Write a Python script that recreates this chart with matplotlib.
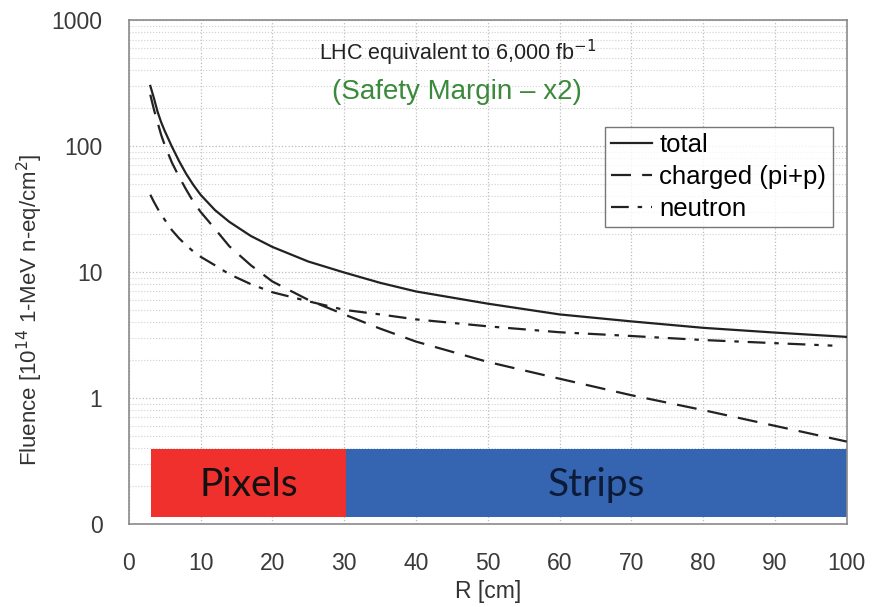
import matplotlib.pyplot as plt
import numpy as np
from matplotlib.ticker import FixedLocator, LogLocator, NullFormatter

# fluence vs radius
r_tot = [3, 3.5, 4, 4.5, 5, 6, 7, 8, 9, 10, 12, 14, 17, 20, 25, 30, 35, 40, 50, 60, 70, 80, 90, 100]
total = [300, 240, 188, 155, 132, 99, 76, 60, 49, 41, 31, 25, 19.3, 15.8, 12.1, 9.9, 8.2, 7.0,
         5.6, 4.6, 4.05, 3.6, 3.3, 3.05]

r_chg = [3, 3.5, 4, 4.5, 5, 6, 7, 8, 9, 10, 12, 14, 17, 20, 25, 30, 35, 40, 50, 60, 70, 80, 90, 100]
charged = [255, 195, 155, 123, 102, 74, 57, 45, 36, 30, 22, 16, 11.3, 8.4, 6.0, 4.6, 3.55, 2.8,
           1.93, 1.42, 1.05, 0.8, 0.6, 0.45]

r_neu = [3, 3.5, 4, 4.5, 5, 6, 7, 8, 9, 10, 12, 14, 17, 20, 25, 30, 35, 40, 50, 60, 70, 80, 90, 98]
neutron = [41, 36, 32, 28.5, 26, 21.5, 18.5, 16.3, 14.5, 13.2, 11.3, 9.6, 8.0, 6.9, 5.85, 5.0,
           4.6, 4.2, 3.7, 3.32, 3.1, 2.88, 2.72, 2.6]

# detector regions (R start, R end)
regions = ["Pixels", "Strips"]
region_span = [(3.05, 30.3), (30.3, 100)]
region_colors = ["#f0302c", "#3565b0"]
region_text = ["#111111", "#0d1b3a"]

y_ticks = [0.1, 1, 10, 100, 1000]
y_labels = ["0", "1", "10", "100", "1000"]
x_ticks = list(range(0, 101, 10))

plt.rcParams['font.family'] = ['Liberation Sans', 'DejaVu Sans']

fig = plt.figure(figsize=(8.82, 6.07), dpi=100)
ax = fig.add_axes([0.146, 0.137, 0.814, 0.830])

ax.set_yscale('log')
ax.set_xlim(0, 100)
ax.set_ylim(0.1, 1000)

# grid
ax.yaxis.set_major_locator(FixedLocator(y_ticks))
ax.yaxis.set_minor_locator(LogLocator(base=10, subs=np.arange(2, 10)))
ax.yaxis.set_minor_formatter(NullFormatter())
ax.set_yticklabels(y_labels)
ax.set_xticks(x_ticks)
ax.grid(True, which='major', linestyle=':', color='#bdbdbd', linewidth=0.9)
ax.grid(True, which='minor', axis='y', linestyle=':', color='#d0d0d0', linewidth=0.8)
ax.tick_params(which='both', length=0, labelsize=16.5, colors='#3a3a3a')
ax.tick_params(axis='y', pad=19)
ax.tick_params(axis='x', pad=20)
for s in ax.spines.values():
    s.set_color('#8a8a8a')
    s.set_linewidth(1.2)

# region bars
for name, (a, b), c, tc in zip(regions, region_span, region_colors, region_text):
    ax.fill_between([a, b], 0.114, 0.39, color=c, linewidth=0, zorder=2)
    ax.text((a + b) / 2, 0.205, name, ha='center', va='center', fontsize=28,
            color=tc, family=['Lato', 'DejaVu Sans'], zorder=3)

# curves
ax.plot(r_tot, total, '-', color='#222222', lw=1.6, label='total', zorder=4)
ax.plot(r_chg, charged, color='#222222', lw=1.6, dashes=(9, 5), label='charged (pi+p)', zorder=4)
ax.plot(r_neu, neutron, color='#222222', lw=1.6, dashes=(8, 4, 2, 4), label='neutron', zorder=4)

ax.text(0.458, 0.934, "LHC equivalent to 6,000 fb$^{-1}$", transform=ax.transAxes,
        ha='center', va='center', fontsize=15.5, color='#222222')
ax.text(0.457, 0.858, "(Safety Margin \u2013 x2)", transform=ax.transAxes,
        ha='center', va='center', fontsize=20, color='#3b8a3b')

leg = ax.legend(loc='upper right', bbox_to_anchor=(0.9805, 0.788), fontsize=18.5,
                frameon=True, fancybox=False, handlelength=1.6, handletextpad=0.27,
                borderpad=0.25, labelspacing=0.3, borderaxespad=0)
leg.get_frame().set_edgecolor('#555555')
leg.get_frame().set_linewidth(1.0)

ax.set_xlabel("R [cm]", fontsize=16.5, color='#333333')
ax.xaxis.set_label_coords(0.5, -0.111)
ax.set_ylabel("Fluence [10$^{14}$ 1-MeV n-eq/cm$^{2}$]", fontsize=16, color='#333333')
ax.yaxis.label.set_va('center')
ax.yaxis.set_label_coords(-0.138, 0.425)

fig.savefig("out.png", dpi=100)
